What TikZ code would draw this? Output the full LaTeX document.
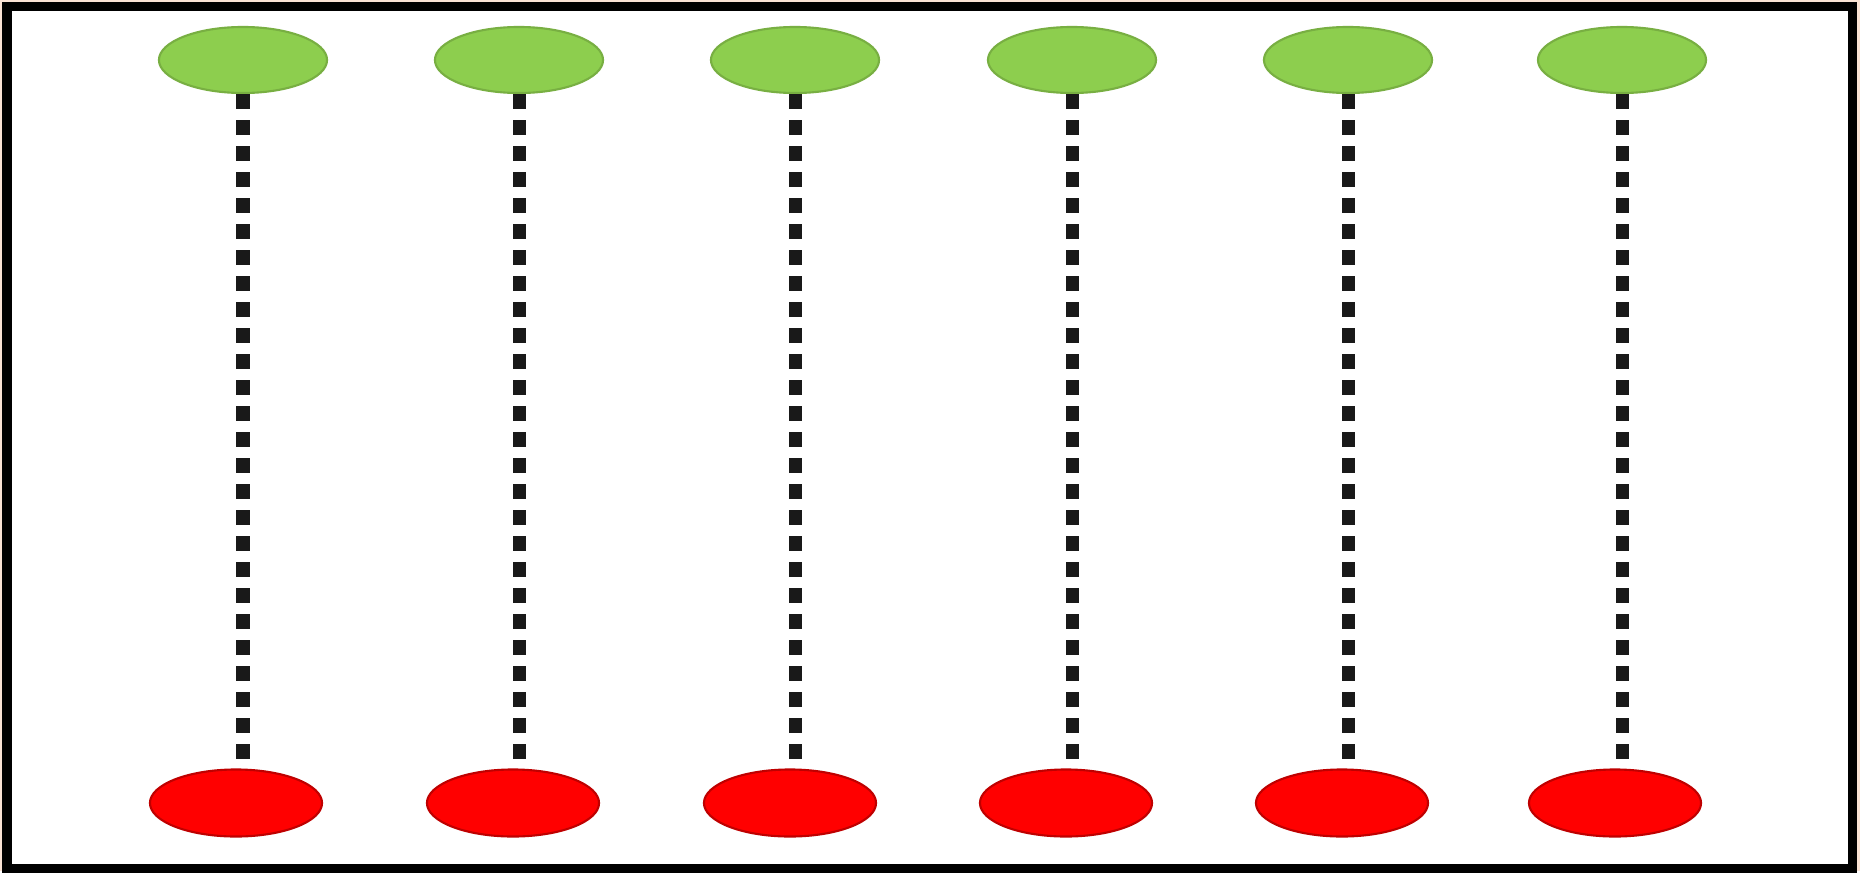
\documentclass[tikz,border=0pt]{standalone}
\usetikzlibrary{shapes.geometric}
\definecolor{leafgreen}{RGB}{141,206,78}
\definecolor{peach}{RGB}{250,226,212}
\tikzset{%
  top dot/.style={ellipse,fill=leafgreen,draw=leafgreen!85!black,line width=0.6pt,
    minimum width=1.68cm,minimum height=0.66cm,inner sep=0pt},%
  bottom dot/.style={ellipse,fill=red,draw=red!75!black,line width=0.6pt,
    minimum width=1.72cm,minimum height=0.67cm,inner sep=0pt},%
  link/.style={line width=0.13cm,dash pattern=on 0.15cm off 0.11cm,black!90}%
}
\begin{document}
\begin{tikzpicture}[x=0.01cm,y=-0.01cm] % one unit = one pixel of the frame
\fill[peach] (0,0) rectangle (1860,871);
\filldraw[fill=white,line width=0.09cm] (7,6.5) rectangle (1852,868);
\useasboundingbox (0,0) rectangle (1860,871);

% top row and bottom row
\foreach \i/\xt/\xb in {1/243/236,2/519/513,3/795/790,4/1072/1066,5/1348/1342,6/1622/1615} {
  \node[top dot] (g\i) at (\xt,60) {};
  \node[bottom dot] (r\i) at (\xb,803) {};
}

% dashed links, straight down
\foreach \i in {1,...,6} { \draw[link] (g\i.south) -- (g\i.south |- r\i.north); }

\end{tikzpicture}
\end{document}
